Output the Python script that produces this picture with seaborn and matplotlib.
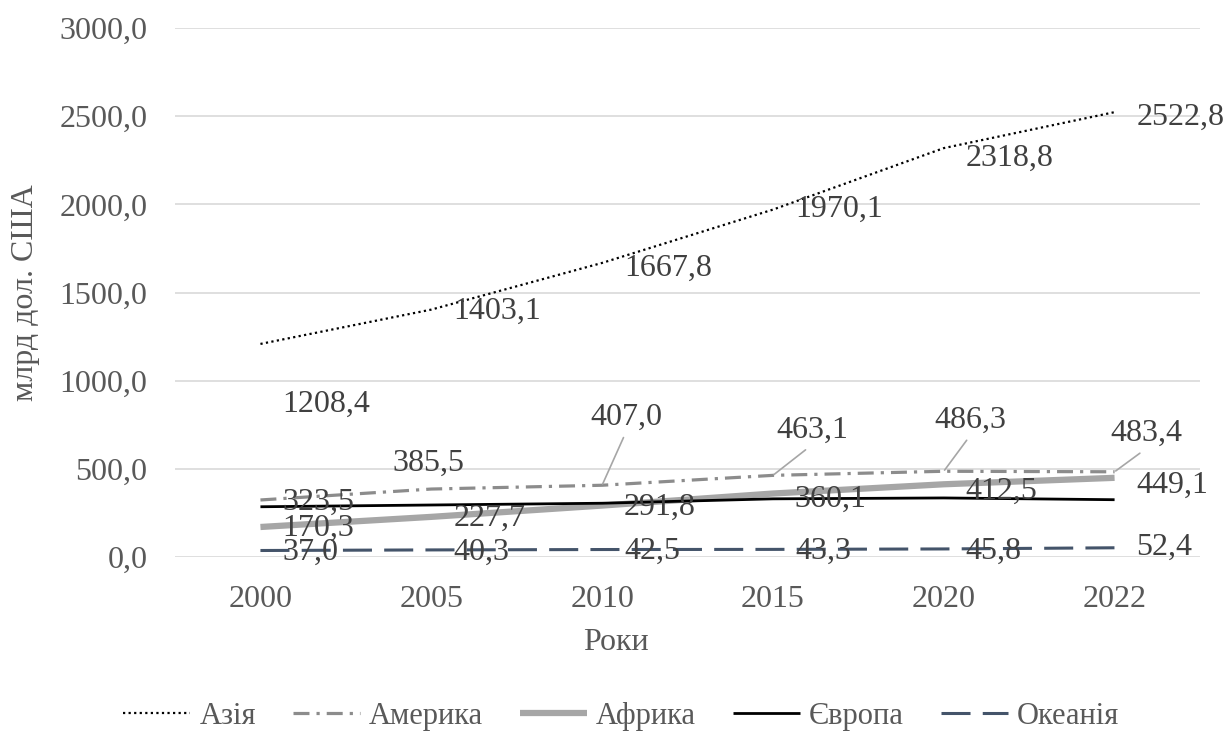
import matplotlib
matplotlib.use("Agg")
import matplotlib.pyplot as plt
import pandas as pd
import seaborn as sns

# Data (млрд дол. США)
years = ["2000", "2005", "2010", "2015", "2020", "2022"]
asia = [1208.4, 1403.1, 1667.8, 1970.1, 2318.8, 2522.8]
america = [323.5, 385.5, 407.0, 463.1, 486.3, 483.4]
africa = [170.3, 227.7, 291.8, 360.1, 412.5, 449.1]
europe = [285.0, 295.0, 305.0, 330.0, 335.0, 325.0]
oceania = [37.0, 40.3, 42.5, 43.3, 45.8, 52.4]

sns.set_style("white")
plt.rcParams["font.family"] = ["Liberation Serif", "DejaVu Serif"]

fig = plt.figure(figsize=(12.3, 7.31), dpi=100)
ax = fig.add_axes([0.1423, 0.238, 0.8333, 0.7237])

# series: name, values, color, width, dashes, show labels
series = [
    ("Азія", asia, "black", 1.6, (1, 1.5), True),
    ("Америка", america, "#8c8c8c", 2.3, (5, 2.2, 1, 2.2), True),
    ("Африка", africa, "#a6a6a6", 4.5, None, True),
    ("Європа", europe, "black", 2.0, None, False),
    ("Океанія", oceania, "#44546a", 2.2, (9.5, 4), True),
]

for name, vals, color, lw, dash, _ in series:
    df = pd.DataFrame({"year": years, "value": vals})
    sns.lineplot(data=df, x="year", y="value", ax=ax, color=color,
                 linewidth=lw, label=name, sort=False)
    l = ax.get_lines()[-1]
    if dash is not None:
        l.set_dashes(dash)
    l.set_solid_capstyle("butt")
    l.set_dash_capstyle("butt")

# label offsets in pixels (dx, dy down, ha, leader)
px = 0.72
label_pos = {
    "Азія": [(22, 60, "left", False), (22, 2, "left", False), (22, 5, "left", False),
             (22, 0, "left", False), (22, 10, "left", False), (22, 5, "left", False)],
    "Америка": [(22, 2, "left", False), (-3, -26, "center", False), (24, -68, "center", True),
                (39, -45, "center", True), (27, -51, "center", True), (32, -38, "center", True)],
    "Африка": [(22, 1, "left", False), (22, 1, "left", False), (22, 2, "left", False),
               (22, 6, "left", False), (22, 7, "left", False), (22, 8, "left", False)],
    "Океанія": [(22, 2, "left", False), (22, 2, "left", False), (22, 2, "left", False),
                (22, 2, "left", False), (22, 2, "left", False), (22, 0, "left", False)],
}

for name, vals, color, lw, dash, show in series:
    if not show:
        continue
    for i, v in enumerate(vals):
        dx, dy, ha, leader = label_pos[name][i]
        txt = f"{v:.1f}".replace(".", ",")
        kw = {}
        if leader:
            kw["arrowprops"] = dict(arrowstyle="-", color="#a6a6a6", lw=1.2,
                                    shrinkA=2, shrinkB=1, relpos=(0.5, 0))
        ax.annotate(txt, xy=(i, v), xytext=(dx * px, -dy * px), textcoords="offset points",
                    ha=ha, va="center", fontsize=23, color="#404040", **kw)

ax.set_xlim(-0.5, 5.5)
ax.set_ylim(0, 3000)
ax.set_yticks(range(0, 3001, 500))
ax.set_yticklabels([f"{t:.1f}".replace(".", ",") for t in range(0, 3001, 500)])
ax.grid(axis="y", color="#d9d9d9", linewidth=1.2)
ax.set_axisbelow(True)
for s in ax.spines.values():
    s.set_visible(False)
ax.tick_params(axis="both", length=0, labelsize=23, labelcolor="#595959")
ax.tick_params(axis="y", pad=20)
ax.tick_params(axis="x", pad=20)

ax.set_xlabel("Роки", fontsize=23, color="#595959")
ax.set_ylabel("млрд дол. США", fontsize=23, color="#595959")
ax.xaxis.set_label_coords(0.43, -0.135)
ax.yaxis.set_label_coords(-0.132, 0.5)

handles, labels = ax.get_legend_handles_labels()
ax.legend_.remove()
fig.legend(handles, labels, loc="center", bbox_to_anchor=(0.505, 0.02), ncol=5,
           frameon=False, fontsize=22, labelcolor="#595959", handlelength=2.2,
           handletextpad=0.3, columnspacing=1.2)

fig.savefig("out.png", dpi=100)
